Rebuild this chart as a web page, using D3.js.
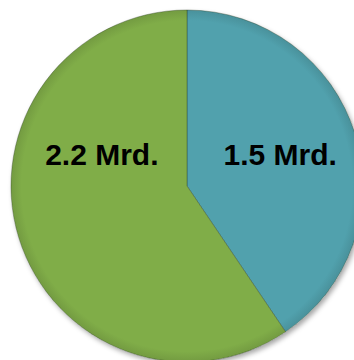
<!DOCTYPE html>
<html><head><meta charset="utf-8">
<script src="https://cdn.jsdelivr.net/npm/d3@7"></script>
<style>html,body{margin:0;padding:0;background:#fff;}svg{display:block;}</style>
</head><body>
<script>
const categories = ["A", "B"];
const values = [1.5, 2.2];
const labels = ["1.5 Mrd.", "2.2 Mrd."];
const colors = ["#51a1ad", "#80ad48"];

const W = 354, H = 360, cx = 187, cy = 186, r = 176;
const svg = d3.select("body").append("svg").attr("width", W).attr("height", H);
const defs = svg.append("defs");
const f = defs.append("filter").attr("id","sh").attr("x","-20%").attr("y","-20%").attr("width","140%").attr("height","140%");
f.append("feDropShadow").attr("dx",2).attr("dy",3).attr("stdDeviation",2.5).attr("flood-color","#000").attr("flood-opacity",0.35);

categories.forEach((c,i)=>{
  const g = defs.append("radialGradient").attr("id","g"+i)
    .attr("gradientUnits","userSpaceOnUse").attr("cx",0).attr("cy",0).attr("r",r);
  g.append("stop").attr("offset","0.94").attr("stop-color",colors[i]);
  g.append("stop").attr("offset","1").attr("stop-color",d3.color(colors[i]).darker(0.3));
});

const pie = d3.pie().sort(null).value(d=>d.v);
const data = pie(categories.map((c,i)=>({c, v: values[i], i})));
const arc = d3.arc().innerRadius(0).outerRadius(r);
const g = svg.append("g").attr("transform",`translate(${cx},${cy})`);
g.append("circle").attr("r", r).attr("fill","#fff").attr("filter","url(#sh)");
g.selectAll("path").data(data).join("path")
  .attr("d", arc)
  .attr("fill", d=>`url(#g${d.data.i})`)
  .attr("stroke", "rgba(40,60,30,0.45)").attr("stroke-width", 0.8);

const labelArc = d3.arc().innerRadius(r*0.53).outerRadius(r*0.53);
g.selectAll("text").data(data).join("text")
  .attr("x", d=>labelArc.centroid(d)[0] + 4)
  .attr("y", -r*0.12)
  .attr("text-anchor","middle")
  .attr("font-family","Liberation Sans, Arial, sans-serif")
  .attr("font-weight","bold")
  .attr("font-size", 30)
  .attr("fill","#000")
  .text(d=>labels[d.data.i]);
</script>
</body></html>
